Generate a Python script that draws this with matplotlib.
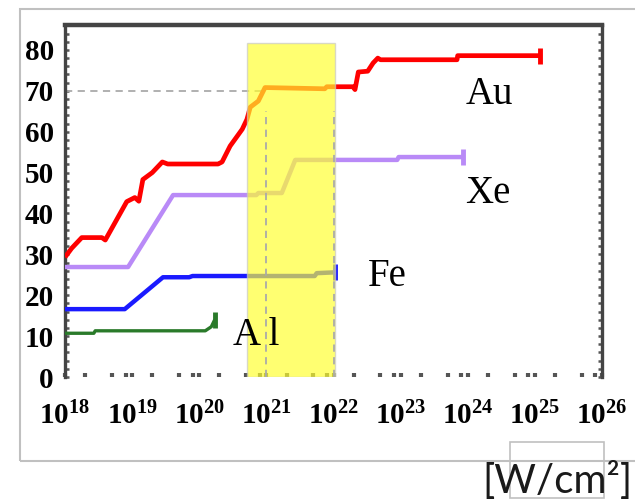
import matplotlib
matplotlib.use('Agg')
import matplotlib.pyplot as plt
import numpy as np
from matplotlib.patches import Rectangle
from matplotlib.ticker import LogLocator, NullFormatter, MultipleLocator

plt.rcParams['mathtext.fontset'] = 'custom'
plt.rcParams['mathtext.bf'] = 'Liberation Serif:bold'
plt.rcParams['mathtext.rm'] = 'Liberation Serif:bold'

# ---- data (log10 of intensity, charge state) ----
au_logI = [18.00, 18.10, 18.25, 18.55, 18.60, 18.92, 19.04, 19.10, 19.16, 19.30, 19.45, 19.53,
           20.28, 20.34, 20.46, 20.64, 20.71, 20.76, 20.88, 20.98, 21.87, 21.90, 22.29, 22.32,
           22.37, 22.51, 22.59, 22.66, 22.70, 23.84, 23.85, 25.08]
au_Z = [29.3, 31.5, 34.1, 34.1, 33.5, 42.9, 43.9, 43.0, 48.3, 50.0, 52.6, 52.1,
        52.1, 52.6, 56.5, 60.6, 63.0, 66.0, 67.5, 70.8, 70.5, 71.0, 71.0, 70.3,
        74.6, 74.8, 76.8, 78.0, 77.6, 77.6, 78.6, 78.6]

xe_logI = [18.00, 18.94, 19.61, 20.85, 20.88, 21.23, 21.43, 22.95, 22.97, 23.93]
xe_Z = [26.9, 26.9, 44.5, 44.5, 45.0, 45.0, 53.1, 53.1, 53.8, 53.8]

fe_logI = [18.00, 18.89, 19.46, 19.85, 19.90, 21.72, 21.75, 22.02]
fe_Z = [16.6, 16.6, 24.4, 24.4, 24.7, 24.7, 25.4, 25.6]

al_logI = [18.00, 18.43, 18.45, 20.09, 20.18, 20.23]
al_Z = [10.7, 10.7, 11.3, 11.3, 12.3, 14.0]

band_logI = [20.71, 22.02]
band_top = 81.7
ref_Z = 70
ref_logI = [21, 22]

element_labels = ['Au', 'Xe', 'Fe', 'A l']
label_logI = [23.97, 23.96, 22.51, 20.50]
label_Z = [66.7, 42.5, 22.2, 7.8]

y_ticks = [0, 10, 20, 30, 40, 50, 60, 70, 80]
x_exps = [18, 19, 20, 21, 22, 23, 24, 25, 26]

# ---- figure ----
fig = plt.figure(figsize=(6.35, 5.03), dpi=100)
W, H = 635, 503
ax = fig.add_axes([65 / W, 1 - 377 / H, (602 - 65) / W, (377 - 25) / H])
ax.set_xscale('log')
ax.set_xlim(1e18, 1e26)
ax.set_ylim(0, 86.1)

series = [
    (au_logI, au_Z, '#ff0000', 3.4),
    (xe_logI, xe_Z, '#b98af7', 3.2),
    (fe_logI, fe_Z, '#1a1aff', 3.2),
    (al_logI, al_Z, '#2a7a2a', 2.4),
]
for lx, z, c, lw in series:
    x = 10 ** np.array(lx)
    ax.plot(x, z, color=c, lw=lw, solid_joinstyle='round', solid_capstyle='butt', zorder=3)
    ax.plot(x[-1], z[-1], marker='|', ms=11, mew=3.5, color=c, zorder=3)

# reference dashed lines
ax.plot([1e18, 10 ** ref_logI[0]], [ref_Z, ref_Z], ls=(0, (4, 3)), color='#aaaaaa', lw=1.3, zorder=2)
for e in ref_logI:
    ax.plot([10 ** e, 10 ** e], [0, 65], ls=(0, (4, 3)), color='#aaaaaa', lw=1.3, zorder=6)

# yellow band
x0, x1 = 10 ** band_logI[0], 10 ** band_logI[1]
ax.add_patch(Rectangle((x0, 0), x1 - x0, band_top, facecolor='#ffff2e', alpha=0.68,
                       edgecolor='#c8c8c8', lw=1.0, zorder=5))

# element labels
for t, lx, z in zip(element_labels, label_logI, label_Z):
    ax.text(10 ** lx, z, t, fontsize=28, family='Liberation Serif', ha='left', va='baseline',
            color='black', zorder=7)

# axes styling
for s in ['left', 'right', 'top']:
    ax.spines[s].set_color('#444444')
ax.spines['left'].set_linewidth(2.4)
ax.spines['right'].set_linewidth(2.4)
ax.spines['top'].set_linewidth(3.2)
ax.spines['bottom'].set_visible(False)

ax.set_yticks(y_ticks)
ax.set_yticklabels([str(v) for v in y_ticks], fontfamily='Liberation Serif', fontweight='bold', fontsize=21)
ax.yaxis.set_minor_locator(MultipleLocator(2))
ax.tick_params(axis='y', which='both', direction='in', length=3, width=1.8, color='#555555',
               left=True, right=True, pad=8)

ax.set_xticks([10.0 ** e for e in x_exps])
ax.set_xticklabels([r'$\mathbf{10^{%d}}$' % e for e in x_exps], fontsize=21)
ax.xaxis.set_minor_locator(LogLocator(base=10, subs=(2, 5, 8), numticks=30))
ax.xaxis.set_minor_formatter(NullFormatter())
ax.tick_params(axis='x', which='both', direction='in', length=3, width=3, color='#555555',
               bottom=True, top=False, pad=18)

# figure frame & unit
fig.add_artist(Rectangle((20 / W, 1 - 461 / H), (640 - 20) / W, (461 - 9) / H,
                         transform=fig.transFigure, fill=False, edgecolor='#c0c0c0', lw=1.5))
fig.add_artist(Rectangle((510 / W, 1 - 498 / H), 94 / W, 56 / H,
                         transform=fig.transFigure, fill=False, edgecolor='#c0c0c0', lw=1.2))
fig.text(633 / W, 1 - 493 / H, '[W/cm²]', ha='right', va='baseline', fontsize=29,
         family='Lato', color='#1a1a1a')

fig.savefig('out.png', dpi=100)
